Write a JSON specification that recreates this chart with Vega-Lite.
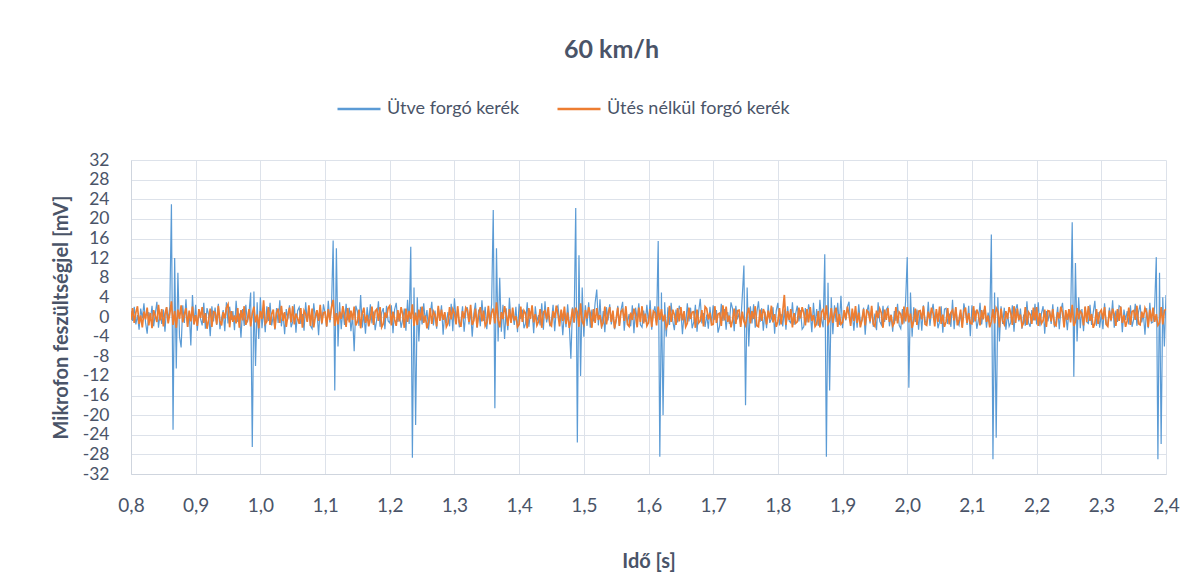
{
"$schema": "https://vega.github.io/schema/vega-lite/v6.json",
"width": 1035,
"height": 314,
"autosize": {"type": "none"},
"padding": {"left": 131, "top": 160, "right": 37, "bottom": 111},
"background": "white",
"config": {"view": {"stroke": null}, "font": "Lato"},
"title": {"text": "60 km/h", "anchor": "middle", "frame": "group", "dx": -37, "offset": 23, "fontSize": 25, "fontWeight": "bold", "font": "Lato", "color": "#4a5468"},
"data": {"values": [
{"t":0.8,"a":1.2,"b":-0.6},{"t":0.8025,"a":-0.8,"b":1.8},{"t":0.805,"a":2.1,"b":-1.2},{"t":0.8075,"a":-1.5,"b":0.9},
{"t":0.81,"a":0.4,"b":2.2},{"t":0.8125,"a":-2.6,"b":-1.4},{"t":0.815,"a":1.7,"b":0.3},{"t":0.8175,"a":-0.3,"b":-2.1},
{"t":0.82,"a":2.8,"b":1.1},{"t":0.8225,"a":-1.1,"b":-0.5},{"t":0.825,"a":-3.4,"b":1.9},{"t":0.8275,"a":1.0,"b":-1.7},
{"t":0.83,"a":-0.7,"b":0.8},{"t":0.8325,"a":2.3,"b":-2.3},{"t":0.835,"a":-1.9,"b":1.4},{"t":0.8375,"a":0.6,"b":0.2},
{"t":0.84,"a":3.1,"b":-1.0},{"t":0.8425,"a":-2.2,"b":2.5},{"t":0.845,"a":0.9,"b":-0.7},{"t":0.8475,"a":-1.4,"b":1.6},
{"t":0.85,"a":1.5,"b":-1.9},{"t":0.8525,"a":-3.0,"b":0.6},{"t":0.855,"a":2.0,"b":2.0},{"t":0.8575,"a":-0.5,"b":-1.3},
{"t":0.86,"a":2.0,"b":0.7},{"t":0.8625,"a":23,"b":3.2},{"t":0.865,"a":-23,"b":-1.6},{"t":0.8675,"a":12,"b":1.2},
{"t":0.87,"a":-10.5,"b":-2.2},{"t":0.8725,"a":9,"b":1.5},{"t":0.875,"a":-4,"b":-0.4},{"t":0.8775,"a":-6.2,"b":2.4},
{"t":0.88,"a":2.4,"b":-1.1},{"t":0.8825,"a":-1.2,"b":0.5},{"t":0.885,"a":3.6,"b":1.8},{"t":0.8875,"a":-2.0,"b":-2.0},
{"t":0.89,"a":1.1,"b":1.3},{"t":0.8925,"a":-5.8,"b":-0.9},{"t":0.895,"a":4.5,"b":2.1},{"t":0.8975,"a":-1.5,"b":-1.5},
{"t":0.9,"a":2.5,"b":0.4},{"t":0.9025,"a":-2.8,"b":-1.8},{"t":0.905,"a":1.3,"b":1.6},{"t":0.9075,"a":-0.4,"b":-0.2},
{"t":0.91,"a":-1.7,"b":2.0},{"t":0.9125,"a":2.9,"b":-1.2},{"t":0.915,"a":-2.4,"b":0.8},{"t":0.9175,"a":1.8,"b":-2.4},
{"t":0.92,"a":0.5,"b":-0.6},{"t":0.9225,"a":-3.9,"b":1.7},{"t":0.925,"a":2.2,"b":-2.0},{"t":0.9275,"a":-0.9,"b":1.1},
{"t":0.93,"a":1.9,"b":0.9},{"t":0.9325,"a":-1.6,"b":-1.5},{"t":0.935,"a":2.7,"b":2.3},{"t":0.9375,"a":-2.5,"b":-0.8},
{"t":0.94,"a":-0.2,"b":-1.7},{"t":0.9425,"a":1.4,"b":1.0},{"t":0.945,"a":-2.9,"b":-0.3},{"t":0.9475,"a":3.0,"b":1.9},
{"t":0.95,"a":-1.3,"b":2.6},{"t":0.9525,"a":2.1,"b":-2.1},{"t":0.955,"a":-0.6,"b":1.2},{"t":0.9575,"a":1.2,"b":-1.0},
{"t":0.96,"a":-2.7,"b":0.3},{"t":0.9625,"a":3.3,"b":-1.3},{"t":0.965,"a":-1.0,"b":1.8},{"t":0.9675,"a":0.7,"b":-2.2},
{"t":0.97,"a":-4.2,"b":1.4},{"t":0.9725,"a":1.6,"b":-0.7},{"t":0.975,"a":-1.8,"b":2.2},{"t":0.9775,"a":2.5,"b":-1.6},
{"t":0.98,"a":-1.1,"b":-0.5},{"t":0.9825,"a":0.9,"b":1.6},{"t":0.985,"a":5.0,"b":-1.9},{"t":0.9875,"a":-26.5,"b":0.7},
{"t":0.99,"a":5.2,"b":2.1},{"t":0.9925,"a":-10,"b":-1.1},{"t":0.995,"a":3,"b":0.5},{"t":0.9975,"a":-4.5,"b":-2.3},
{"t":1.0,"a":4.0,"b":1.2},{"t":1.0025,"a":-2.3,"b":-0.4},{"t":1.005,"a":1.5,"b":3.4},{"t":1.0075,"a":-3.1,"b":-1.4},
{"t":1.01,"a":2.2,"b":-0.9},{"t":1.0125,"a":-0.8,"b":2.0},{"t":1.015,"a":2.9,"b":-1.6},{"t":1.0175,"a":-1.7,"b":0.6},
{"t":1.02,"a":0.3,"b":1.5},{"t":1.0225,"a":-2.6,"b":-2.4},{"t":1.025,"a":1.8,"b":0.9},{"t":1.0275,"a":-1.2,"b":1.7},
{"t":1.03,"a":3.4,"b":-1.2},{"t":1.0325,"a":-1.9,"b":2.3},{"t":1.035,"a":0.8,"b":-0.8},{"t":1.0375,"a":-3.5,"b":1.0},
{"t":1.04,"a":1.6,"b":-2.0},{"t":1.0425,"a":-0.5,"b":0.4},{"t":1.045,"a":2.4,"b":1.9},{"t":1.0475,"a":-2.1,"b":-1.1},
{"t":1.05,"a":-1.0,"b":2.2},{"t":1.0525,"a":2.6,"b":-1.5},{"t":1.055,"a":-3.2,"b":0.7},{"t":1.0575,"a":1.3,"b":-0.3},
{"t":1.06,"a":2.0,"b":-1.4},{"t":1.0625,"a":-1.4,"b":1.8},{"t":1.065,"a":0.6,"b":-2.2},{"t":1.0675,"a":-2.8,"b":1.3},
{"t":1.07,"a":3.0,"b":0.6},{"t":1.0725,"a":-0.9,"b":-1.0},{"t":1.075,"a":1.7,"b":2.4},{"t":1.0775,"a":-1.8,"b":-1.8},
{"t":1.08,"a":-2.4,"b":1.7},{"t":1.0825,"a":2.8,"b":-2.1},{"t":1.085,"a":-0.3,"b":0.2},{"t":1.0875,"a":1.1,"b":1.4},
{"t":1.09,"a":-3.7,"b":-0.8},{"t":1.0925,"a":1.9,"b":2.5},{"t":1.095,"a":-1.5,"b":-1.3},{"t":1.0975,"a":2.6,"b":0.9},
{"t":1.1,"a":0.8,"b":1.0},{"t":1.1025,"a":-2.0,"b":-1.9},{"t":1.105,"a":3.3,"b":1.6},{"t":1.1075,"a":-1.1,"b":-0.6},
{"t":1.11,"a":2.1,"b":2.0},{"t":1.1125,"a":15.6,"b":3.5},{"t":1.115,"a":-15,"b":-1.8},{"t":1.1175,"a":14,"b":0.8},
{"t":1.12,"a":-6,"b":-1.5},{"t":1.1225,"a":3,"b":1.1},{"t":1.125,"a":-2.5,"b":-0.4},{"t":1.1275,"a":1.4,"b":2.2},
{"t":1.13,"a":-1.6,"b":0.5},{"t":1.1325,"a":2.7,"b":-2.0},{"t":1.135,"a":-0.7,"b":1.8},{"t":1.1375,"a":1.9,"b":-1.1},
{"t":1.14,"a":-2.9,"b":1.3},{"t":1.1425,"a":0.4,"b":-0.6},{"t":1.145,"a":-7.0,"b":2.1},{"t":1.1475,"a":2.3,"b":-1.7},
{"t":1.15,"a":1.2,"b":-0.9},{"t":1.1525,"a":-1.8,"b":1.5},{"t":1.155,"a":4.5,"b":-2.3},{"t":1.1575,"a":-2.2,"b":0.7},
{"t":1.16,"a":0.6,"b":1.9},{"t":1.1625,"a":-3.4,"b":-1.2},{"t":1.165,"a":2.0,"b":0.4},{"t":1.1675,"a":-1.0,"b":-1.9},
{"t":1.17,"a":2.6,"b":-0.3},{"t":1.1725,"a":-1.3,"b":2.1},{"t":1.175,"a":1.1,"b":-1.6},{"t":1.1775,"a":-2.7,"b":1.2},
{"t":1.18,"a":-0.4,"b":1.6},{"t":1.1825,"a":3.2,"b":-0.8},{"t":1.185,"a":-2.0,"b":2.0},{"t":1.1875,"a":0.9,"b":-2.1},
{"t":1.19,"a":1.8,"b":-1.4},{"t":1.1925,"a":-2.5,"b":0.9},{"t":1.195,"a":2.3,"b":-0.2},{"t":1.1975,"a":-0.8,"b":1.8},
{"t":1.2,"a":-1.2,"b":2.3},{"t":1.2025,"a":2.4,"b":-1.7},{"t":1.205,"a":-3.3,"b":1.1},{"t":1.2075,"a":1.5,"b":-0.5},
{"t":1.21,"a":2.9,"b":-1.8},{"t":1.2125,"a":-1.0,"b":1.4},{"t":1.215,"a":0.7,"b":-0.9},{"t":1.2175,"a":-2.2,"b":2.0},
{"t":1.22,"a":-0.5,"b":0.6},{"t":1.2225,"a":1.7,"b":-2.2},{"t":1.225,"a":-2.8,"b":1.7},{"t":1.2275,"a":3.5,"b":-1.0},
{"t":1.23,"a":-1.4,"b":1.2},{"t":1.2325,"a":14.3,"b":-0.4},{"t":1.235,"a":-28.7,"b":2.6},{"t":1.2375,"a":6,"b":-1.8},
{"t":1.24,"a":-22,"b":0.9},{"t":1.2425,"a":4,"b":-1.6},{"t":1.245,"a":-5,"b":1.5},{"t":1.2475,"a":2.1,"b":-0.7},
{"t":1.25,"a":-1.5,"b":2.1},{"t":1.2525,"a":2.8,"b":-1.2},{"t":1.255,"a":-0.9,"b":0.3},{"t":1.2575,"a":1.4,"b":-2.3},
{"t":1.26,"a":-2.6,"b":-1.0},{"t":1.2625,"a":0.5,"b":1.8},{"t":1.265,"a":3.1,"b":-1.4},{"t":1.2675,"a":-1.7,"b":1.1},
{"t":1.27,"a":1.3,"b":0.4},{"t":1.2725,"a":-2.4,"b":-1.9},{"t":1.275,"a":1.9,"b":2.3},{"t":1.2775,"a":-0.6,"b":-0.8},
{"t":1.28,"a":2.4,"b":1.5},{"t":1.2825,"a":-3.6,"b":-0.6},{"t":1.285,"a":0.8,"b":1.0},{"t":1.2875,"a":-1.2,"b":-2.0},
{"t":1.29,"a":1.0,"b":-1.3},{"t":1.2925,"a":-1.9,"b":2.0},{"t":1.295,"a":2.7,"b":-0.5},{"t":1.2975,"a":-2.9,"b":1.6},
{"t":1.3,"a":3.8,"b":0.8},{"t":1.3025,"a":-0.7,"b":-1.5},{"t":1.305,"a":1.6,"b":2.2},{"t":1.3075,"a":-2.1,"b":-1.1},
{"t":1.31,"a":-1.1,"b":-2.0},{"t":1.3125,"a":2.2,"b":1.2},{"t":1.315,"a":-3.0,"b":-0.3},{"t":1.3175,"a":0.9,"b":1.9},
{"t":1.32,"a":2.0,"b":1.4},{"t":1.3225,"a":-1.5,"b":-1.0},{"t":1.325,"a":1.2,"b":2.5},{"t":1.3275,"a":-4.0,"b":-1.6},
{"t":1.33,"a":0.7,"b":-0.7},{"t":1.3325,"a":2.9,"b":1.7},{"t":1.335,"a":-2.2,"b":-2.1},{"t":1.3375,"a":1.5,"b":0.6},
{"t":1.34,"a":-1.9,"b":2.0},{"t":1.3425,"a":3.4,"b":-0.9},{"t":1.345,"a":-0.8,"b":1.3},{"t":1.3475,"a":2.1,"b":-1.8},
{"t":1.35,"a":-2.5,"b":-1.1},{"t":1.3525,"a":1.4,"b":2.3},{"t":1.355,"a":-1.2,"b":-1.5},{"t":1.3575,"a":2.6,"b":0.9},
{"t":1.36,"a":21.8,"b":1.7},{"t":1.3625,"a":-18.6,"b":-1.3},{"t":1.365,"a":14,"b":3.0},{"t":1.3675,"a":-5,"b":-0.6},
{"t":1.37,"a":8,"b":-2.1},{"t":1.3725,"a":-3,"b":1.0},{"t":1.375,"a":2.5,"b":-0.4},{"t":1.3775,"a":-4.5,"b":2.2},
{"t":1.38,"a":1.8,"b":0.5},{"t":1.3825,"a":-2.7,"b":-1.8},{"t":1.385,"a":3.9,"b":1.6},{"t":1.3875,"a":-1.0,"b":-1.2},
{"t":1.39,"a":0.9,"b":1.9},{"t":1.3925,"a":-1.6,"b":-0.7},{"t":1.395,"a":2.1,"b":0.2},{"t":1.3975,"a":-3.1,"b":-2.0},
{"t":1.4,"a":2.7,"b":-1.5},{"t":1.4025,"a":-0.4,"b":2.1},{"t":1.405,"a":1.5,"b":-1.0},{"t":1.4075,"a":-2.3,"b":1.3},
{"t":1.41,"a":-1.3,"b":0.7},{"t":1.4125,"a":3.0,"b":-2.3},{"t":1.415,"a":-2.0,"b":1.8},{"t":1.4175,"a":0.8,"b":-0.4},
{"t":1.42,"a":1.6,"b":2.4},{"t":1.4225,"a":-3.3,"b":-1.1},{"t":1.425,"a":2.2,"b":0.6},{"t":1.4275,"a":-0.9,"b":-1.7},
{"t":1.43,"a":0.4,"b":-0.9},{"t":1.4325,"a":-1.7,"b":1.6},{"t":1.435,"a":2.8,"b":-2.2},{"t":1.4375,"a":-2.6,"b":1.0},
{"t":1.44,"a":3.2,"b":1.3},{"t":1.4425,"a":-1.1,"b":-0.5},{"t":1.445,"a":0.9,"b":2.0},{"t":1.4475,"a":-1.9,"b":-1.4},
{"t":1.45,"a":-0.6,"b":-1.8},{"t":1.4525,"a":2.5,"b":1.2},{"t":1.455,"a":-2.9,"b":-0.2},{"t":1.4575,"a":1.7,"b":2.3},
{"t":1.46,"a":2.3,"b":0.6},{"t":1.4625,"a":-0.8,"b":-1.9},{"t":1.465,"a":1.2,"b":1.5},{"t":1.4675,"a":-3.7,"b":-0.8},
{"t":1.47,"a":1.1,"b":2.1},{"t":1.4725,"a":-2.1,"b":-1.4},{"t":1.475,"a":2.6,"b":0.9},{"t":1.4775,"a":-1.4,"b":-2.2},
{"t":1.48,"a":-8.5,"b":-0.7},{"t":1.4825,"a":2.0,"b":1.7},{"t":1.485,"a":-1.2,"b":-1.1},{"t":1.4875,"a":22.2,"b":1.9},
{"t":1.49,"a":-25.6,"b":1.0},{"t":1.4925,"a":12.6,"b":-2.0},{"t":1.495,"a":-12,"b":2.8},{"t":1.4975,"a":6,"b":-0.9},
{"t":1.5,"a":-4,"b":-1.6},{"t":1.5025,"a":2.4,"b":1.4},{"t":1.505,"a":-1.8,"b":-0.3},{"t":1.5075,"a":3.0,"b":2.0},
{"t":1.51,"a":-2.2,"b":0.8},{"t":1.5125,"a":1.5,"b":-2.2},{"t":1.515,"a":-0.9,"b":1.6},{"t":1.5175,"a":2.9,"b":-1.2},
{"t":1.52,"a":5.6,"b":1.8},{"t":1.5225,"a":-1.7,"b":-0.6},{"t":1.525,"a":3.6,"b":0.4},{"t":1.5275,"a":-2.4,"b":-1.9},
{"t":1.53,"a":1.2,"b":-1.2},{"t":1.5325,"a":-3.1,"b":2.1},{"t":1.535,"a":2.0,"b":-1.5},{"t":1.5375,"a":-0.7,"b":0.7},
{"t":1.54,"a":2.6,"b":2.0},{"t":1.5425,"a":-1.5,"b":-1.0},{"t":1.545,"a":0.8,"b":1.3},{"t":1.5475,"a":-2.5,"b":-2.3},
{"t":1.55,"a":-0.9,"b":-0.4},{"t":1.5525,"a":2.3,"b":1.9},{"t":1.555,"a":-1.8,"b":-1.8},{"t":1.5575,"a":1.4,"b":1.1},
{"t":1.56,"a":3.1,"b":1.5},{"t":1.5625,"a":-2.8,"b":-0.8},{"t":1.565,"a":1.0,"b":2.2},{"t":1.5675,"a":-1.3,"b":-1.5},
{"t":1.57,"a":0.6,"b":-1.9},{"t":1.5725,"a":-1.9,"b":0.9},{"t":1.575,"a":2.4,"b":-0.6},{"t":1.5775,"a":-3.3,"b":1.7},
{"t":1.58,"a":1.9,"b":0.3},{"t":1.5825,"a":-0.5,"b":-2.1},{"t":1.585,"a":2.8,"b":1.9},{"t":1.5875,"a":-1.6,"b":-1.0},
{"t":1.59,"a":-2.1,"b":2.2},{"t":1.5925,"a":1.3,"b":-1.3},{"t":1.595,"a":-1.0,"b":0.7},{"t":1.5975,"a":2.5,"b":-1.8},
{"t":1.6,"a":-1.4,"b":-1.1},{"t":1.6025,"a":3.4,"b":1.6},{"t":1.605,"a":-2.6,"b":-2.0},{"t":1.6075,"a":0.9,"b":1.2},
{"t":1.61,"a":2.2,"b":0.9},{"t":1.6125,"a":-1.2,"b":-1.7},{"t":1.615,"a":15.5,"b":2.1},{"t":1.6175,"a":-28.5,"b":-0.6},
{"t":1.62,"a":5,"b":1.6},{"t":1.6225,"a":-20,"b":-0.9},{"t":1.625,"a":3,"b":0.5},{"t":1.6275,"a":-4,"b":-2.2},
{"t":1.63,"a":2.0,"b":-1.4},{"t":1.6325,"a":-1.6,"b":2.3},{"t":1.635,"a":2.9,"b":-1.0},{"t":1.6375,"a":-0.8,"b":1.5},
{"t":1.64,"a":-2.7,"b":0.4},{"t":1.6425,"a":1.5,"b":-1.6},{"t":1.645,"a":-1.1,"b":1.8},{"t":1.6475,"a":2.3,"b":-0.9},
{"t":1.65,"a":1.3,"b":2.0},{"t":1.6525,"a":-3.5,"b":-0.7},{"t":1.655,"a":0.7,"b":1.2},{"t":1.6575,"a":-1.7,"b":-2.0},
{"t":1.66,"a":2.8,"b":-1.3},{"t":1.6625,"a":-0.9,"b":1.9},{"t":1.665,"a":1.9,"b":-0.4},{"t":1.6675,"a":-2.3,"b":1.0},
{"t":1.67,"a":-1.0,"b":1.1},{"t":1.6725,"a":2.5,"b":-2.2},{"t":1.675,"a":-3.0,"b":1.5},{"t":1.6775,"a":1.1,"b":-1.2},
{"t":1.68,"a":3.7,"b":-0.8},{"t":1.6825,"a":-1.3,"b":1.4},{"t":1.685,"a":0.8,"b":-1.9},{"t":1.6875,"a":-2.0,"b":2.1},
{"t":1.69,"a":0.5,"b":1.7},{"t":1.6925,"a":-2.4,"b":-0.5},{"t":1.695,"a":2.1,"b":0.9},{"t":1.6975,"a":-1.5,"b":-1.6},
{"t":1.7,"a":2.4,"b":-1.5},{"t":1.7025,"a":-0.6,"b":2.2},{"t":1.705,"a":1.4,"b":-1.2},{"t":1.7075,"a":-3.2,"b":0.6},
{"t":1.71,"a":-1.8,"b":0.8},{"t":1.7125,"a":2.7,"b":-1.8},{"t":1.715,"a":-0.8,"b":2.4},{"t":1.7175,"a":1.6,"b":-0.7},
{"t":1.72,"a":-2.6,"b":2.1},{"t":1.7225,"a":1.0,"b":-1.0},{"t":1.725,"a":-1.4,"b":0.3},{"t":1.7275,"a":3.0,"b":-2.1},
{"t":1.73,"a":1.7,"b":-0.6},{"t":1.7325,"a":-2.9,"b":1.7},{"t":1.735,"a":2.3,"b":-1.4},{"t":1.7375,"a":-0.5,"b":1.3},
{"t":1.74,"a":0.8,"b":1.4},{"t":1.7425,"a":-1.6,"b":-2.0},{"t":1.745,"a":4.2,"b":1.1},{"t":1.7475,"a":10.5,"b":-0.9},
{"t":1.75,"a":-18,"b":-1.7},{"t":1.7525,"a":6,"b":0.6},{"t":1.755,"a":-6,"b":1.9},{"t":1.7575,"a":2.2,"b":-1.3},
{"t":1.76,"a":-1.3,"b":1.2},{"t":1.7625,"a":2.6,"b":-0.4},{"t":1.765,"a":-2.2,"b":2.2},{"t":1.7675,"a":0.9,"b":-1.8},
{"t":1.77,"a":3.2,"b":-2.0},{"t":1.7725,"a":-1.0,"b":1.5},{"t":1.775,"a":1.8,"b":-0.8},{"t":1.7775,"a":-2.8,"b":1.6},
{"t":1.78,"a":1.1,"b":0.7},{"t":1.7825,"a":-2.3,"b":-1.5},{"t":1.785,"a":2.5,"b":1.3},{"t":1.7875,"a":-1.2,"b":-0.5},
{"t":1.79,"a":-0.4,"b":2.3},{"t":1.7925,"a":2.0,"b":-1.1},{"t":1.795,"a":-3.4,"b":0.6},{"t":1.7975,"a":1.3,"b":-2.0},
{"t":1.8,"a":2.9,"b":-0.9},{"t":1.8025,"a":-1.7,"b":1.8},{"t":1.805,"a":0.6,"b":-1.5},{"t":1.8075,"a":-1.9,"b":1.1},
{"t":1.81,"a":1.5,"b":4.5},{"t":1.8125,"a":-2.6,"b":-1.6},{"t":1.815,"a":2.2,"b":1.2},{"t":1.8175,"a":-0.8,"b":-0.6},
{"t":1.82,"a":-1.2,"b":1.6},{"t":1.8225,"a":3.0,"b":-2.1},{"t":1.825,"a":-1.6,"b":0.8},{"t":1.8275,"a":0.7,"b":-1.3},
{"t":1.83,"a":2.3,"b":-1.0},{"t":1.8325,"a":-0.9,"b":1.9},{"t":1.835,"a":1.4,"b":-0.3},{"t":1.8375,"a":-2.5,"b":2.0},
{"t":1.84,"a":-2.0,"b":0.9},{"t":1.8425,"a":1.8,"b":-1.7},{"t":1.845,"a":-1.1,"b":1.6},{"t":1.8475,"a":2.6,"b":-1.1},
{"t":1.85,"a":0.9,"b":2.0},{"t":1.8525,"a":-3.1,"b":-0.8},{"t":1.855,"a":2.9,"b":0.4},{"t":1.8575,"a":-1.4,"b":-1.9},
{"t":1.86,"a":1.6,"b":-1.4},{"t":1.8625,"a":-1.8,"b":1.2},{"t":1.865,"a":3.5,"b":-2.1},{"t":1.8675,"a":-0.6,"b":1.0},
{"t":1.87,"a":-2.1,"b":1.5},{"t":1.8725,"a":12.8,"b":-0.6},{"t":1.875,"a":-28.5,"b":2.4},{"t":1.8775,"a":7,"b":-1.4},
{"t":1.88,"a":-15,"b":-0.7},{"t":1.8825,"a":4,"b":1.8},{"t":1.885,"a":-3.5,"b":-1.2},{"t":1.8875,"a":2.4,"b":0.8},
{"t":1.89,"a":-1.0,"b":1.9},{"t":1.8925,"a":2.9,"b":-2.0},{"t":1.895,"a":-1.6,"b":0.6},{"t":1.8975,"a":4.3,"b":-1.5},
{"t":1.9,"a":-2.3,"b":-1.1},{"t":1.9025,"a":1.2,"b":1.4},{"t":1.905,"a":-0.7,"b":-0.5},{"t":1.9075,"a":2.1,"b":2.1},
{"t":1.91,"a":3.1,"b":0.5},{"t":1.9125,"a":-1.5,"b":-1.8},{"t":1.915,"a":0.9,"b":1.7},{"t":1.9175,"a":-2.8,"b":-0.8},
{"t":1.92,"a":1.4,"b":2.2},{"t":1.9225,"a":-2.2,"b":-1.2},{"t":1.925,"a":2.6,"b":0.9},{"t":1.9275,"a":-1.1,"b":-2.1},
{"t":1.93,"a":-0.8,"b":-0.6},{"t":1.9325,"a":1.9,"b":1.6},{"t":1.935,"a":-3.6,"b":-1.7},{"t":1.9375,"a":1.0,"b":1.3},
{"t":1.94,"a":2.5,"b":1.0},{"t":1.9425,"a":-1.3,"b":-0.9},{"t":1.945,"a":1.7,"b":2.3},{"t":1.9475,"a":-2.0,"b":-1.4},
{"t":1.95,"a":0.7,"b":-1.9},{"t":1.9525,"a":-2.7,"b":1.3},{"t":1.955,"a":3.0,"b":-0.2},{"t":1.9575,"a":-0.9,"b":1.7},
{"t":1.96,"a":-1.6,"b":0.8},{"t":1.9625,"a":2.3,"b":-2.2},{"t":1.965,"a":-1.0,"b":1.5},{"t":1.9675,"a":1.5,"b":-0.6},
{"t":1.97,"a":2.1,"b":1.8},{"t":1.9725,"a":-1.9,"b":-1.0},{"t":1.975,"a":0.5,"b":0.4},{"t":1.9775,"a":-3.0,"b":-1.8},
{"t":1.98,"a":1.2,"b":-1.2},{"t":1.9825,"a":-0.8,"b":2.0},{"t":1.985,"a":2.7,"b":-1.3},{"t":1.9875,"a":-1.7,"b":1.0},
{"t":1.99,"a":-2.4,"b":0.6},{"t":1.9925,"a":1.6,"b":-1.5},{"t":1.995,"a":-1.3,"b":2.1},{"t":1.9975,"a":3.3,"b":-0.9},
{"t":2.0,"a":12.2,"b":2.0},{"t":2.0025,"a":-14.4,"b":-1.1},{"t":2.005,"a":5,"b":0.7},{"t":2.0075,"a":-4,"b":-2.2},
{"t":2.01,"a":2.0,"b":-0.8},{"t":2.0125,"a":-1.0,"b":1.7},{"t":2.015,"a":1.5,"b":-1.6},{"t":2.0175,"a":-2.6,"b":1.2},
{"t":2.02,"a":1.3,"b":1.3},{"t":2.0225,"a":-2.8,"b":-0.5},{"t":2.025,"a":2.4,"b":2.2},{"t":2.0275,"a":-0.7,"b":-1.5},
{"t":2.03,"a":-1.5,"b":-1.7},{"t":2.0325,"a":3.1,"b":1.1},{"t":2.035,"a":-1.8,"b":-0.4},{"t":2.0375,"a":0.9,"b":1.9},
{"t":2.04,"a":2.7,"b":0.7},{"t":2.0425,"a":-0.6,"b":-1.9},{"t":2.045,"a":1.1,"b":1.6},{"t":2.0475,"a":-2.3,"b":-1.0},
{"t":2.05,"a":-0.9,"b":2.1},{"t":2.0525,"a":2.2,"b":-1.4},{"t":2.055,"a":-3.2,"b":0.5},{"t":2.0575,"a":1.6,"b":-2.0},
{"t":2.06,"a":1.8,"b":-1.0},{"t":2.0625,"a":-1.4,"b":1.8},{"t":2.065,"a":0.7,"b":-1.5},{"t":2.0675,"a":-2.0,"b":0.9},
{"t":2.07,"a":3.5,"b":1.4},{"t":2.0725,"a":-2.5,"b":-0.7},{"t":2.075,"a":1.9,"b":2.0},{"t":2.0775,"a":-1.0,"b":-1.7},
{"t":2.08,"a":-1.7,"b":-0.5},{"t":2.0825,"a":0.8,"b":1.5},{"t":2.085,"a":-2.1,"b":-2.2},{"t":2.0875,"a":2.8,"b":1.1},
{"t":2.09,"a":1.0,"b":1.9},{"t":2.0925,"a":-1.6,"b":-1.2},{"t":2.095,"a":2.3,"b":0.8},{"t":2.0975,"a":-3.9,"b":-1.3},
{"t":2.1,"a":2.4,"b":-1.4},{"t":2.1025,"a":-1.1,"b":2.2},{"t":2.105,"a":1.3,"b":-0.9},{"t":2.1075,"a":-2.4,"b":1.5},
{"t":2.11,"a":-0.6,"b":0.6},{"t":2.1125,"a":2.9,"b":-1.7},{"t":2.115,"a":-1.5,"b":1.4},{"t":2.1175,"a":1.2,"b":-0.5},
{"t":2.12,"a":1.7,"b":2.3},{"t":2.1225,"a":-2.2,"b":-1.0},{"t":2.125,"a":0.9,"b":0.3},{"t":2.1275,"a":-1.3,"b":-2.1},
{"t":2.13,"a":16.8,"b":-0.9},{"t":2.1325,"a":-29,"b":1.6},{"t":2.135,"a":5,"b":-1.3},{"t":2.1375,"a":-24.6,"b":1.8},
{"t":2.14,"a":4,"b":1.1},{"t":2.1425,"a":-5,"b":-2.1},{"t":2.145,"a":2.2,"b":1.7},{"t":2.1475,"a":-1.4,"b":-0.8},
{"t":2.15,"a":1.9,"b":-1.5},{"t":2.1525,"a":-2.6,"b":1.2},{"t":2.155,"a":0.8,"b":-0.4},{"t":2.1575,"a":-1.9,"b":2.0},
{"t":2.16,"a":-1.1,"b":0.8},{"t":2.1625,"a":2.4,"b":-1.6},{"t":2.165,"a":-3.0,"b":2.2},{"t":2.1675,"a":1.5,"b":-1.2},
{"t":2.17,"a":2.6,"b":1.7},{"t":2.1725,"a":-0.9,"b":-0.6},{"t":2.175,"a":1.7,"b":0.5},{"t":2.1775,"a":-2.4,"b":-1.9},
{"t":2.18,"a":0.5,"b":-1.2},{"t":2.1825,"a":-1.8,"b":2.0},{"t":2.185,"a":3.2,"b":-1.6},{"t":2.1875,"a":-1.2,"b":1.0},
{"t":2.19,"a":-2.0,"b":0.5},{"t":2.1925,"a":1.4,"b":-1.4},{"t":2.195,"a":-0.7,"b":1.9},{"t":2.1975,"a":2.7,"b":-0.7},
{"t":2.2,"a":-1.5,"b":2.0},{"t":2.2025,"a":3.0,"b":-1.8},{"t":2.205,"a":-1.9,"b":0.8},{"t":2.2075,"a":0.8,"b":-1.3},
{"t":2.21,"a":2.2,"b":-0.7},{"t":2.2125,"a":-3.4,"b":1.5},{"t":2.215,"a":1.2,"b":-2.0},{"t":2.2175,"a":-0.9,"b":1.3},
{"t":2.22,"a":1.1,"b":1.2},{"t":2.2225,"a":-1.4,"b":-0.9},{"t":2.225,"a":2.6,"b":1.6},{"t":2.2275,"a":-2.1,"b":-1.6},
{"t":2.23,"a":-0.8,"b":-1.8},{"t":2.2325,"a":2.1,"b":1.0},{"t":2.235,"a":-2.5,"b":-0.3},{"t":2.2375,"a":1.3,"b":2.1},
{"t":2.24,"a":2.9,"b":0.9},{"t":2.2425,"a":-1.2,"b":-2.1},{"t":2.245,"a":0.6,"b":1.4},{"t":2.2475,"a":-2.7,"b":-0.6},
{"t":2.25,"a":1.4,"b":1.6},{"t":2.2525,"a":-0.7,"b":-1.1},{"t":2.255,"a":19.3,"b":2.5},{"t":2.2575,"a":-12.2,"b":-1.8},
{"t":2.26,"a":11,"b":-1.0},{"t":2.2625,"a":-5,"b":1.8},{"t":2.265,"a":4,"b":-0.5},{"t":2.2675,"a":-2.3,"b":1.2},
{"t":2.27,"a":1.6,"b":0.7},{"t":2.2725,"a":-2.9,"b":-1.7},{"t":2.275,"a":2.1,"b":2.1},{"t":2.2775,"a":-1.0,"b":-1.0},
{"t":2.28,"a":-1.3,"b":2.2},{"t":2.2825,"a":2.5,"b":-0.8},{"t":2.285,"a":-1.6,"b":0.6},{"t":2.2875,"a":0.9,"b":-2.2},
{"t":2.29,"a":3.3,"b":-1.3},{"t":2.2925,"a":-1.8,"b":1.6},{"t":2.295,"a":1.0,"b":-1.4},{"t":2.2975,"a":-2.2,"b":0.9},
{"t":2.3,"a":0.8,"b":1.4},{"t":2.3025,"a":-2.5,"b":-0.5},{"t":2.305,"a":2.8,"b":2.0},{"t":2.3075,"a":-1.4,"b":-1.5},
{"t":2.31,"a":-1.7,"b":-1.9},{"t":2.3125,"a":1.9,"b":1.3},{"t":2.315,"a":-0.9,"b":-0.7},{"t":2.3175,"a":3.4,"b":1.7},
{"t":2.32,"a":-2.2,"b":0.6},{"t":2.3225,"a":1.3,"b":-1.8},{"t":2.325,"a":-1.0,"b":1.6},{"t":2.3275,"a":2.3,"b":-0.8},
{"t":2.33,"a":2.0,"b":2.1},{"t":2.3325,"a":-3.1,"b":-1.2},{"t":2.335,"a":1.5,"b":0.4},{"t":2.3375,"a":-0.6,"b":-2.0},
{"t":2.34,"a":1.2,"b":-0.8},{"t":2.3425,"a":-1.5,"b":1.9},{"t":2.345,"a":2.4,"b":-1.6},{"t":2.3475,"a":-2.0,"b":1.1},
{"t":2.35,"a":-0.5,"b":1.3},{"t":2.3525,"a":2.7,"b":-0.6},{"t":2.355,"a":-1.8,"b":2.3},{"t":2.3575,"a":1.0,"b":-1.4},
{"t":2.36,"a":2.5,"b":-1.6},{"t":2.3625,"a":-1.1,"b":1.1},{"t":2.365,"a":0.7,"b":-0.2},{"t":2.3675,"a":-3.6,"b":1.8},
{"t":2.37,"a":1.8,"b":0.9},{"t":2.3725,"a":-2.3,"b":-2.0},{"t":2.375,"a":2.9,"b":1.5},{"t":2.3775,"a":-1.2,"b":-0.9},
{"t":2.38,"a":-1.0,"b":1.9},{"t":2.3825,"a":2.2,"b":-1.0},{"t":2.385,"a":12.2,"b":0.6},{"t":2.3875,"a":-29,"b":-1.7},
{"t":2.39,"a":9,"b":-1.2},{"t":2.3925,"a":-25.9,"b":2.0},{"t":2.395,"a":4,"b":-1.5},{"t":2.3975,"a":-6,"b":1.3},
{"t":2.4,"a":4.5,"b":1.6}
]},
"layer": [
{"mark": {"type": "line", "strokeWidth": 1.2, "clip": true},
 "encoding": {
  "x": {"field": "t", "type": "quantitative", "title": "Idő [s]",
        "scale": {"domain": [0.8, 2.4], "nice": false, "zero": false},
        "axis": {"values": [0.8,0.9,1.0,1.1,1.2,1.3,1.4,1.5,1.6,1.7,1.8,1.9,2.0,2.1,2.2,2.3,2.4], "tickCount": 40,
                 "labelExpr": "replace(format(datum.value, '.1f'), '.', ',')",
                 "grid": true, "gridColor": "#dde2ea", "gridWidth": 1, "ticks": false,
                 "domainColor": "#cfd5de", "labelFont": "Lato", "labelFontSize": 19, "labelColor": "#4a5468",
                 "labelPadding": 22, "labelFlush": false, "labelOverlap": false, "titleFont": "Lato", "titleFontSize": 20, "titleFontWeight": "bold",
                 "titleColor": "#4a5468", "titlePadding": 36}},
  "y": {"field": "a", "type": "quantitative", "title": "Mikrofon feszültségjel [mV]",
        "scale": {"domain": [-32, 32], "nice": false},
        "axis": {"values": [-32,-28,-24,-20,-16,-12,-8,-4,0,4,8,12,16,20,24,28,32], "tickCount": 40,
                 "labelExpr": "datum.value < 0 ? '-' + abs(datum.value) : '' + datum.value",
                 "grid": true, "gridColor": "#dde2ea", "gridWidth": 1, "ticks": false,
                 "domainColor": "#cfd5de", "labelFont": "Lato", "labelFontSize": 17.5, "labelColor": "#4a5468",
                 "labelPadding": 22, "labelFlush": false, "labelOverlap": false, "titleFont": "Lato", "titleFontSize": 20, "titleFontWeight": "bold",
                 "titleColor": "#4a5468", "titlePadding": 11}},
  "color": {"datum": "Ütve forgó kerék", "type": "nominal",
            "scale": {"domain": ["Ütve forgó kerék", "Ütés nélkül forgó kerék"], "range": ["#5b9bd5", "#ed7d31"]},
            "legend": {"orient": "none", "legendX": 205, "legendY": -74, "direction": "horizontal", "title": null,
                       "symbolType": "stroke", "symbolSize": 1849, "symbolStrokeWidth": 2.5,
                       "labelFont": "Lato", "labelFontSize": 18, "labelColor": "#4a5468", "labelOffset": 5,
                       "columnPadding": 32, "labelLimit": 400}}
 }},
{"mark": {"type": "line", "strokeWidth": 1.7, "clip": true},
 "encoding": {
  "x": {"field": "t", "type": "quantitative", "title": "Idő [s]"},
  "y": {"field": "b", "type": "quantitative", "title": "Mikrofon feszültségjel [mV]"},
  "color": {"datum": "Ütés nélkül forgó kerék", "type": "nominal"}
 }}
]
}
